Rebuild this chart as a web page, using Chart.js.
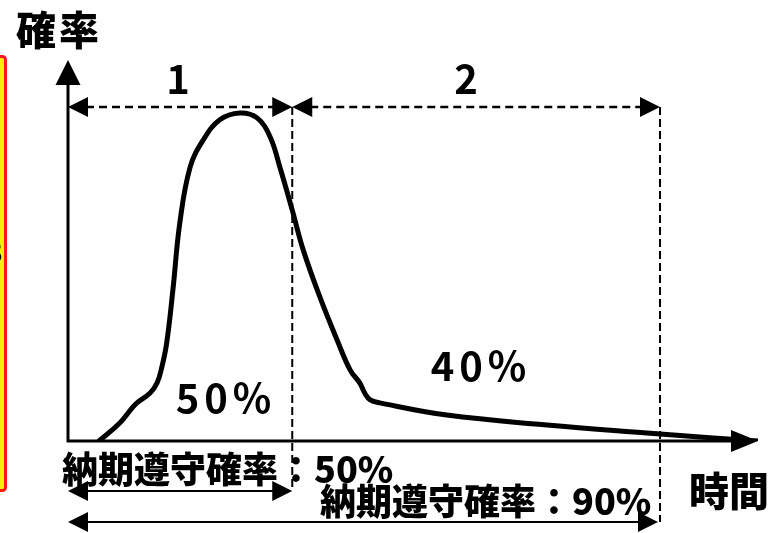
<!DOCTYPE html>
<html>
<head>
<meta charset="utf-8">
<script src="https://cdn.jsdelivr.net/npm/chart.js@4.4.1/dist/chart.umd.min.js"></script>
<style>
  html, body { margin: 0; padding: 0; background: #fff; }
  #wrap { width: 780px; height: 533px; }
</style>
</head>
<body>
<div id="wrap"><canvas id="myChart"></canvas></div>
<script>
// temps (0-100) et probabilité (0-100)
const temps = [4.5, 7.5, 9.3, 10.0, 11.9, 12.9, 13.6, 14.3, 15.2, 16.2, 17.7, 19.6, 22.0, 24.9, 27.4, 29.3, 30.7, 32.5, 34.1, 36.5, 39.0, 40.9, 42.3, 43.0, 43.8, 45.2, 54.9, 69.4, 83.9, 93.5, 100]
const probabilite = [0, 4.7, 8.7, 10.0, 12.6, 15.2, 19.4, 25.7, 39.6, 57.2, 71.9, 79.0, 84.3, 86.1, 84.8, 79.8, 71.9, 60.6, 50.1, 37.8, 26.5, 18.6, 15.2, 12.6, 10.8, 10.0, 6.8, 4.2, 2.1, 0.8, 0]

// limites des zones 1 et 2 (en temps)
const limites = [0, 32.5, 85.8]
const zonesLabels = ['1', '2']
const partsLabels = ['50%', '40%']
const tauxLabels = ['納期遵守確率：50%', '納期遵守確率：90%']
const axeY = '確率'
const axeX = '時間'

const points = temps.map((t, i) => ({ x: t, y: probabilite[i] }))

const police = '"Noto Sans CJK JP", "Noto Sans", sans-serif'

function fleche(ctx, x, y, dir, long, demi) {
    // dir : 'l', 'r', 'u'
    ctx.beginPath()
    ctx.moveTo(x, y)
    if (dir === 'r') { ctx.lineTo(x - long, y - demi); ctx.lineTo(x - long, y + demi) }
    if (dir === 'l') { ctx.lineTo(x + long, y - demi); ctx.lineTo(x + long, y + demi) }
    if (dir === 'u') { ctx.lineTo(x - demi, y + long); ctx.lineTo(x + demi, y + long) }
    ctx.closePath()
    ctx.fill()
}

const dessin = {
    id: 'dessin',
    beforeDatasetsDraw(chart) {
        const ctx = chart.ctx
        const xs = chart.scales.x, ys = chart.scales.y
        const x0 = xs.getPixelForValue(0), y0 = ys.getPixelForValue(0)
        const yTop = ys.getPixelForValue(100), xEnd = xs.getPixelForValue(100)
        ctx.save()
        ctx.fillStyle = '#000'
        ctx.strokeStyle = '#000'
        // axes
        ctx.lineWidth = 3
        ctx.beginPath()
        ctx.moveTo(x0, y0 + 1.5); ctx.lineTo(x0, yTop + 20)
        ctx.moveTo(x0 - 1.5, y0); ctx.lineTo(xEnd - 20, y0)
        ctx.stroke()
        fleche(ctx, x0, yTop, 'u', 25, 12.5)
        fleche(ctx, xEnd, y0, 'r', 27, 11)

        // lignes verticales pointillées
        const xa = xs.getPixelForValue(limites[1]), xb = xs.getPixelForValue(limites[2])
        const yDim = 107
        ctx.lineWidth = 2
        ctx.setLineDash([8, 4])
        ctx.beginPath()
        ctx.moveTo(xa, yDim); ctx.lineTo(xa, 491)
        ctx.moveTo(xb, yDim); ctx.lineTo(xb, 522)
        ctx.stroke()

        // cotes du haut
        ctx.lineWidth = 2.5
        ctx.setLineDash([8, 5])
        ctx.beginPath()
        ctx.moveTo(x0 + 18, yDim); ctx.lineTo(xa - 18, yDim)
        ctx.moveTo(xa + 18, yDim); ctx.lineTo(xb - 18, yDim)
        ctx.stroke()
        ctx.setLineDash([])
        fleche(ctx, x0, yDim, 'l', 20, 10)
        fleche(ctx, xa, yDim, 'r', 20, 10)
        fleche(ctx, xa, yDim, 'l', 20, 10)
        fleche(ctx, xb, yDim, 'r', 20, 10)

        // flèches du bas
        ctx.lineWidth = 2
        ctx.beginPath()
        ctx.moveTo(x0 + 15, 491); ctx.lineTo(xa - 15, 491)
        ctx.moveTo(x0 + 15, 522); ctx.lineTo(xb - 17, 522)
        ctx.stroke()
        fleche(ctx, x0, 491, 'l', 20, 10)
        fleche(ctx, xa, 491, 'r', 20, 10)
        fleche(ctx, x0, 522, 'l', 20, 10)
        fleche(ctx, xb - 2, 522, 'r', 20, 10)

        // cadre rouge coupé à gauche
        ctx.fillStyle = '#ffee00'
        ctx.fillRect(0, 57, 4, 433)
        ctx.strokeStyle = '#ff1a1a'
        ctx.lineWidth = 3
        ctx.beginPath()
        ctx.roundRect(-100, 56.5, 105.5, 434, 3)
        ctx.stroke()
        ctx.restore()
    },
    afterDraw(chart) {
        const ctx = chart.ctx
        ctx.save()
        ctx.fillStyle = '#000'
        ctx.textBaseline = 'middle'

        // morceau de texte coupé à gauche
        ctx.font = 'bold 30px ' + police
        ctx.textAlign = 'right'
        ctx.fillText('3', 3, 252)

        // titres des axes
        ctx.textAlign = 'left'
        ctx.font = '900 40px ' + police
        ctx.letterSpacing = '3px'
        ctx.fillText(axeY, 16, 30)
        ctx.letterSpacing = '0px'
        ctx.fillText(axeX, 689, 491)

        // numéros des zones
        ctx.textAlign = 'center'
        ctx.font = 'bold 40px ' + police
        ctx.fillText(zonesLabels[0], 178, 79)
        ctx.fillText(zonesLabels[1], 466, 79)

        // pourcentages
        ctx.font = 'bold 40px ' + police
        ctx.letterSpacing = '5px'
        ctx.fillText(partsLabels[0], 226, 398)
        ctx.fillText(partsLabels[1], 481, 366)
        ctx.letterSpacing = '0px'

        // taux de respect des délais
        ctx.textAlign = 'left'
        ctx.font = '900 36px ' + police
        ctx.fillText(tauxLabels[0], 62, 469)
        ctx.fillText(tauxLabels[1], 320, 501)
        ctx.restore()
    }
}

const data = {
    datasets: [{
        label: 'probabilité',
        data: points,
        borderColor: '#000',
        borderWidth: 5,
        pointRadius: 0,
        fill: false,
        tension: 0.4,
        borderCapStyle: 'round',
        borderJoinStyle: 'round'
    }]
}

const config = {
    type: 'line',
    data: data,
    options: {
        responsive: true,
        maintainAspectRatio: false,
        animation: false,
        layout: { padding: { left: 68, right: 22, top: 60, bottom: 92 } },
        plugins: { legend: { display: false }, tooltip: { enabled: false } },
        scales: {
            x: { type: 'linear', min: 0, max: 100, display: false },
            y: { min: 0, max: 100, display: false }
        }
    },
    plugins: [dessin]
}

new Chart(document.getElementById('myChart'), config)
</script>
</body>
</html>
